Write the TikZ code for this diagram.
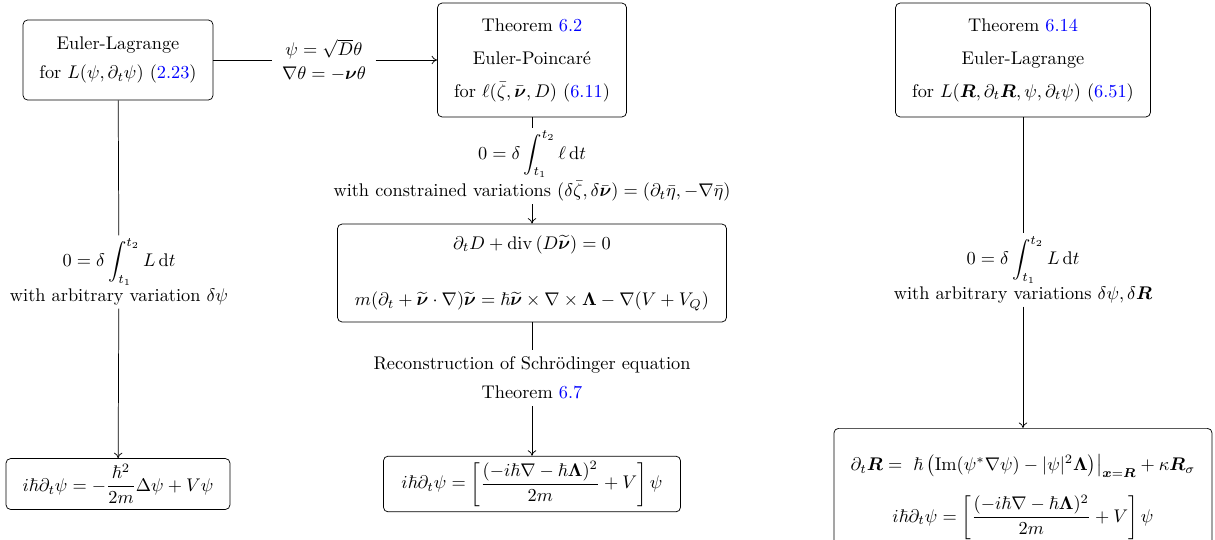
\documentclass[tikz,border=0pt]{standalone}
\usepackage{amsmath,amssymb}
\usepackage{tikz}
\usetikzlibrary{arrows.meta}

\newcommand{\lnk}[1]{\textcolor{blue}{#1}}
\newcommand{\bnu}{\boldsymbol{\nu}}
\newcommand{\bR}{\boldsymbol{R}}
\newcommand{\bLam}{\boldsymbol{\Lambda}}
\newcommand{\dd}{\mathrm{d}}

\begin{document}
\begin{tikzpicture}[x=0.546pt, y=-0.546pt, >={To[length=3pt,width=4.6pt]},
    box/.style={draw, rounded corners=2.5pt, align=center, inner xsep=7pt, inner ysep=3pt},
    lbl/.style={align=center, inner xsep=5pt, inner ysep=1.5pt}]
    \useasboundingbox (0,0) rectangle (1215,539);
    % Lagrangian boxes
    \node[box, minimum width=103.7pt, minimum height=43.7pt] (EL) at (118,60)
        {Euler-Lagrange\\[3.5pt] for $L(\psi,\partial_t\psi)$ (\lnk{2.23})};
    \node[box, minimum width=103.2pt, minimum height=62.2pt] (EP) at (532,60)
        {Theorem \lnk{6.2}\\[6pt] Euler-Poincar\'e\\[6pt] for $\ell(\bar\zeta,\bar{\bnu},D)$ (\lnk{6.11})};
    \node[box, minimum width=139.2pt, minimum height=62.2pt] (ELR) at (1023,60)
        {Theorem \lnk{6.14}\\[6pt] Euler-Lagrange\\[6pt] for $L(\bR,\partial_t\bR,\psi,\partial_t\psi)$ (\lnk{6.51})};
    % Equations of motion
    \node[box, minimum width=212.4pt, minimum height=53.5pt] (Sys) at (532,273)
        {$\partial_t D + \operatorname{div}\left(D\widetilde{\bnu}\right) = 0$\\[18.6pt]
         $m(\partial_t + \widetilde{\bnu}\cdot\nabla)\widetilde{\bnu} = \hbar\widetilde{\bnu}\times\nabla\times\bLam - \nabla(V+V_Q)$};
    \node[box, minimum width=122.3pt, minimum height=27.8pt] (Sch1) at (118,484)
        {$i\hbar\partial_t\psi = -\dfrac{\hbar^2}{2m}\Delta\psi + V\psi$};
    \node[box, minimum width=162.2pt, minimum height=30pt] (Sch2) at (532,484)
        {$i\hbar\partial_t\psi = \left[\dfrac{(-i\hbar\nabla-\hbar\bLam)^2}{2m}+V\right]\psi$};
    \node[box, anchor=north, minimum width=206.4pt, inner ysep=14.5pt] (Hyb) at (1023,428)
        {$\partial_t\bR = \ \hbar\,\big(\mathrm{Im}(\psi^*\nabla\psi) - |\psi|^2\bLam\big)\big|_{\boldsymbol{x}=\bR} + \kappa\bR_\sigma$\\[8.3pt]
         $i\hbar\partial_t\psi = \left[\dfrac{(-i\hbar\nabla-\hbar\bLam)^2}{2m}+V\right]\psi$};
    % Labels on the connectors
    \node[lbl] (Lh) at (324,60) {$\psi=\sqrt{D}\theta$\\[1pt] $\nabla\theta=-\bnu\theta$};
    \node[lbl] (Ll) at (119,272)
        {$0=\delta\displaystyle\int_{t_1}^{t_2} L\,\dd t$\\[1pt] with arbitrary variation $\delta\psi$};
    \node[lbl] (Lm1) at (532,166)
        {$0=\delta\displaystyle\int_{t_1}^{t_2} \ell\,\dd t$\\[1pt] with constrained variations $(\delta\bar\zeta,\delta\bar{\bnu})=(\partial_t\bar\eta,-\nabla\bar\eta)$};
    \node[lbl] (Lr) at (1023,270)
        {$0=\delta\displaystyle\int_{t_1}^{t_2} L\,\dd t$\\[1pt] with arbitrary variations $\delta\psi,\delta\bR$};
    \node[lbl, inner ysep=3.5pt] (Lm2) at (532,378)
        {Reconstruction of Schr\"odinger equation\\[4pt] Theorem \lnk{6.7}};
    % Connectors
    \draw (EL) -- (Lh);
    \draw[->] (Lh) -- (EP);
    \draw (EL) -- (Ll);
    \draw[->] (Ll) -- (Sch1);
    \draw (EP) -- (Lm1);
    \draw[->] (Lm1) -- (Sys);
    \draw (Sys) -- (Lm2);
    \draw[->] (Lm2) -- (Sch2);
    \draw (ELR) -- (Lr);
    \draw[->] (Lr) -- (Hyb);
\end{tikzpicture}
\end{document}
